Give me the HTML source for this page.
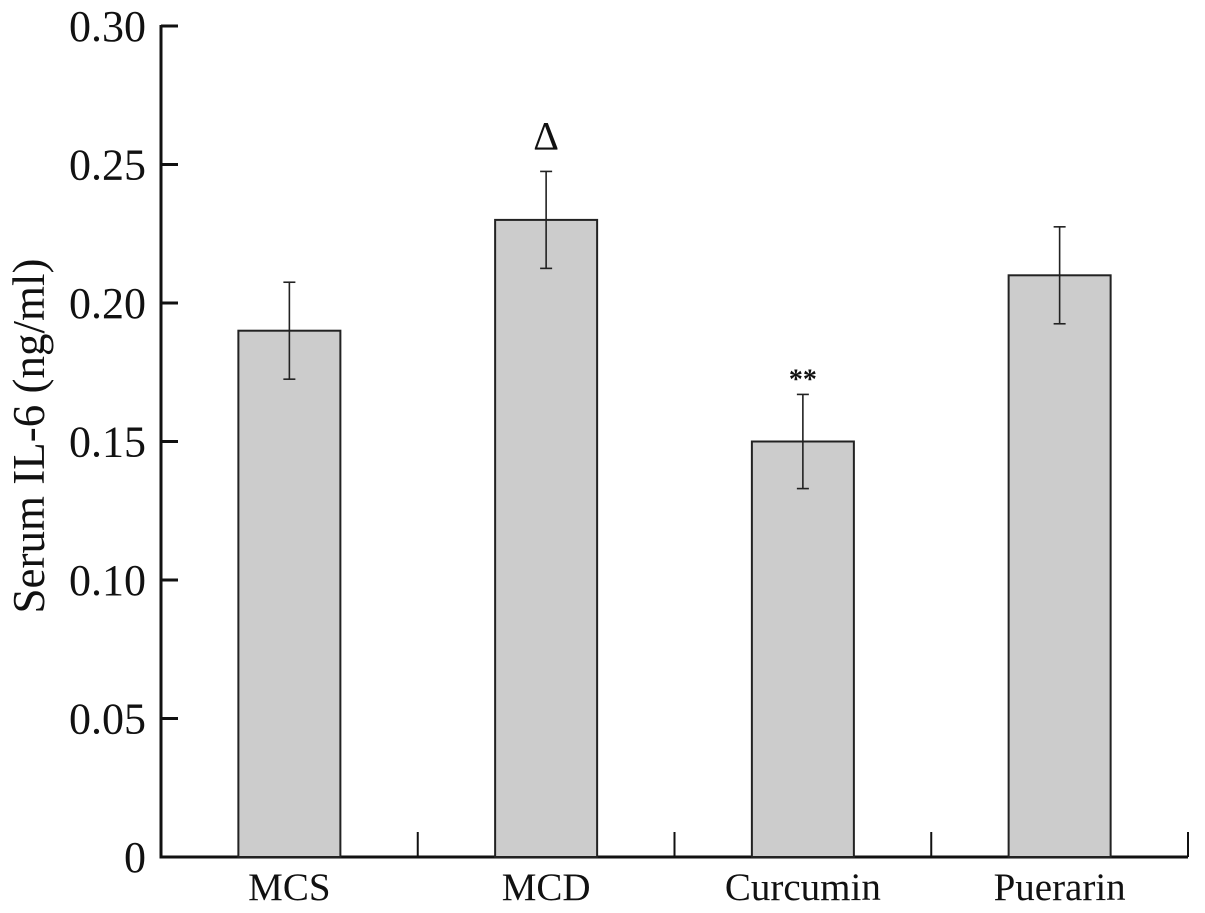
<!DOCTYPE html>
<html><head><meta charset="utf-8"><style>
html,body{margin:0;padding:0;background:#fff;}
svg{display:block;font-family:"Liberation Serif",serif;}
</style></head><body>
<svg id="chart" width="1205" height="913" viewBox="0 0 1205 913" xmlns="http://www.w3.org/2000/svg">
<g id="axes"></g>
<g id="bars"></g>
<text transform="translate(44,436) rotate(-90)" text-anchor="middle" font-size="45" fill="#111">Serum IL-6 (ng/ml)</text>
</svg>
<script>
const categories = ["MCS","MCD","Curcumin","Puerarin"];
const values = [0.19,0.23,0.15,0.21];
const errors = [0.0175,0.0175,0.017,0.0175];
const markers = ["","\u0394","**",""];
const yTicks = [0,0.05,0.10,0.15,0.20,0.25,0.30];
const yTickLabels = ["0","0.05","0.10","0.15","0.20","0.25","0.30"];

const NS="http://www.w3.org/2000/svg";
const x0=161, x1=1188, yBase=857, yTop=26, yMax=0.30;
const band=(x1-x0)/categories.length;
const yS=v=>yBase-(v/yMax)*(yBase-yTop);
const xC=i=>x0+band*(i+0.5);
const barW=102;
function mk(tag,attrs,parent){const e=document.createElementNS(NS,tag);for(const k in attrs)e.setAttribute(k,attrs[k]);parent.appendChild(e);return e;}
const axes=document.getElementById('axes'), bars=document.getElementById('bars');

let l=mk('line',{x1:x0,y1:yTop-1,x2:x0,y2:yBase+1.5,stroke:'#111','stroke-width':3},axes);


l=mk('line',{x1:x0-1.5,y1:yBase,x2:x1,y2:yBase,stroke:'#111','stroke-width':3},axes);



yTicks.forEach((v,i)=>{
  const y=yS(v);
  if(i>0){const t=mk('line',{x1:x0,y1:y,x2:x0+17,y2:y,stroke:'#111','stroke-width':3},axes);
  
  }
  const tx=mk('text',{x:146,y:y+15,'text-anchor':'end','font-size':44,fill:'#111'},axes);
  tx.textContent=yTickLabels[i];
  
  
});
for(let i=1;i<=categories.length;i++){
  const x=x0+band*i;
  const t=mk('line',{x1:x,y1:yBase-25,x2:x,y2:yBase,stroke:'#111','stroke-width':2},axes);
  
  
}
categories.forEach((c,i)=>{
  const cx=xC(i), top=yS(values[i]);
  const r=mk('rect',{x:cx-barW/2,y:top,width:barW,height:yBase-top,fill:'#cccccc',stroke:'#222','stroke-width':2},bars);
  
  
  const hi=yS(values[i]+errors[i]), lo=yS(values[i]-errors[i]);
  const g=mk('g',{stroke:'#222','stroke-width':1.6},bars);
  
  
  mk('line',{x1:cx,y1:hi,x2:cx,y2:lo},g);
  mk('line',{x1:cx-6,y1:hi,x2:cx+6,y2:hi},g);
  mk('line',{x1:cx-6,y1:lo,x2:cx+6,y2:lo},g);
  if(markers[i]){
    const isStar=markers[i]==='**';
    const m=mk('text',{x:cx,y:hi-(isStar?6:22),'text-anchor':'middle','font-size':isStar?28:40,'font-weight':isStar?'bold':'normal',fill:'#111'},bars);
    m.textContent=markers[i];
    
    
  }
  const lb=mk('text',{x:cx,y:900,'text-anchor':'middle','font-size':39,fill:'#111'},axes);
  lb.textContent=c;
  
  
});
</script>
</body></html>
